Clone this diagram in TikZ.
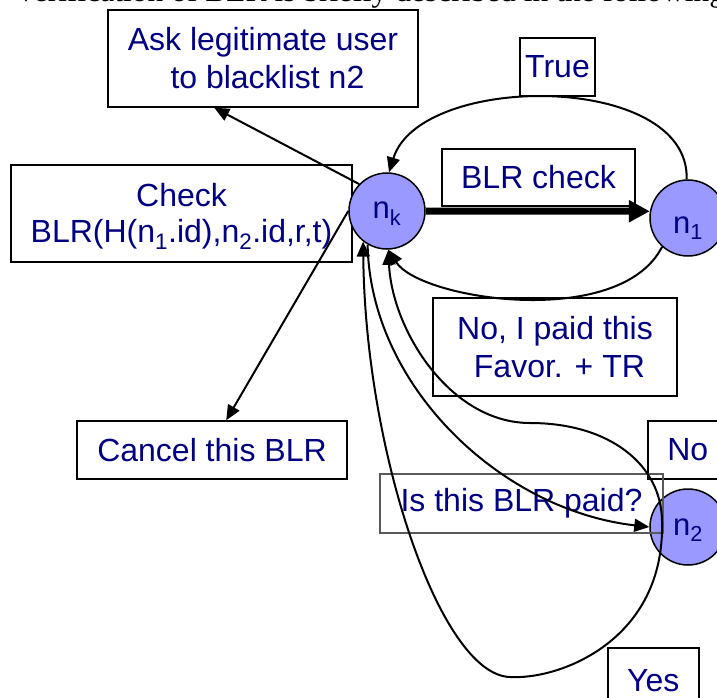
\documentclass[tikz,border=0pt]{standalone}
\usepackage{fontspec}
\setmainfont{Liberation Sans}
\newfontfamily\headserif{Liberation Serif}
\usetikzlibrary{arrows.meta,calc}
\definecolor{navytext}{RGB}{0,0,128}
\definecolor{peerfill}{RGB}{153,153,255}

\begin{document}
\begin{tikzpicture}[x=1pt,y=-1pt,
  every node/.style={font=\fontsize{32}{38}\selectfont, text=navytext},
  box/.style={draw=black, line width=1.5pt, inner sep=0pt, align=center},
  peer/.style={circle, draw=black, line width=1.5pt, fill=peerfill,
    minimum size=76pt, inner sep=0pt, font=\fontsize{31}{36}\selectfont},
  link/.style={line width=2pt, -{Triangle[length=15pt,width=13pt]}},
  heavy/.style={line width=7pt, -{Triangle[length=21pt,width=21pt]}},
]
\clip (0,0) rectangle (717,698);

% running text of the page above the figure
\node[font=\headserif\fontsize{31.5}{36}\selectfont, text=black,
  anchor=base west, inner sep=0pt] (head) at (18,2)
  {verification of BLR is briefly described in the following};

% request box, drawn under the peer circle
\node[box, minimum width=341pt, minimum height=97pt,
  font=\fontsize{32}{36}\selectfont] (check) at (181.5,213.5)
  {\raisebox{-3pt}[\height][\depth]{Check}\\
   \raisebox{-3pt}[\height][\depth]{BLR(H(n\textsubscript{1}.id),n\textsubscript{2}.id,r,t)}};

% peers
\node[peer] (nk) at (387,211) {\raisebox{-3pt}[\height][\depth]{n\textsubscript{k}}};
\node[peer] (n1) at (688,218) {\raisebox{-10pt}[\height][\depth]{n\textsubscript{1}}};
\node[peer] (n2) at (688,527) {\raisebox{-3pt}[\height][\depth]{n\textsubscript{2}}};

% message boxes
\node[box, minimum width=310pt, minimum height=97pt] (ask) at (263,58.5)
  {Ask legitimate user\\ \ to blacklist n2};
\node[box, minimum width=75pt, minimum height=58pt] (true) at (557.5,67) {True};
\node[box, minimum width=193pt, minimum height=57pt] (blr) at (538.5,177.5) {BLR check};
\node[box, minimum width=244pt, minimum height=98pt] (paid) at (555,347)
  {No, I paid this\\ \ Favor. + TR};
\node[box, minimum width=270pt, minimum height=58pt] (cancel) at (212,450) {Cancel this BLR};
\node[box, minimum width=80pt, minimum height=58pt, anchor=west] (no) at (647,450) {No};
\node[box, draw=black!65, minimum width=283pt, minimum height=59pt] (query) at (521.5,503.5)
  {Is this BLR paid?};
\node[box, minimum width=91pt, minimum height=66pt, anchor=north west] (yes) at (607,647) {Yes};

% replies leave n2 on its left side
\coordinate (n2x) at ($(n2.center)+(-26,-5)$);

% connectors
\draw[link] (nk.136) -- ($(ask.south west)+(107,0)$);
\draw[link] (nk.west) -- ($(cancel.north west)+(150,0)$);
\draw[heavy] (nk.east) -- (n1.170);
\draw[link] (n1.92) .. controls (690,72) and (420,72) .. (nk.87);
\draw[link] (n1.228) .. controls (620,330) and (420,300) .. (nk.-88);
\draw[link] (nk.240) .. controls (370,385) and (500,510) .. (n2.west);
\draw[link] (n2x) .. controls (662,465) and (610,423) .. (530,423)
  .. controls (450,423) and (392,330) .. (nk.-88);
\draw[link] (n2x) .. controls (665,640) and (560,680) .. (510,677)
  .. controls (440,675) and (365,450) .. (nk.232);
\end{tikzpicture}
\end{document}
